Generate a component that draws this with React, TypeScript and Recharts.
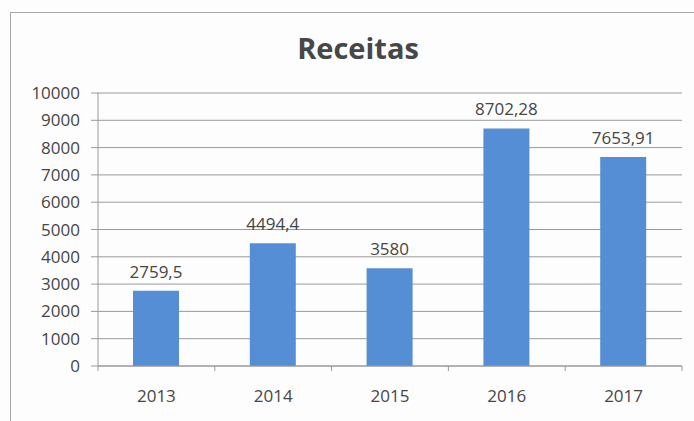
import { BarChart, Bar, XAxis, YAxis, CartesianGrid, LabelList } from 'recharts';

const years = ['2013', '2014', '2015', '2016', '2017'];
const receitas = [2759.5, 4494.4, 3580, 8702.28, 7653.91];
const yTicks = [0, 1000, 2000, 3000, 4000, 5000, 6000, 7000, 8000, 9000, 10000];

const data = years.map((year, i) => ({ year, receitas: receitas[i] }));

const FONT = '"Open Sans", "Noto Sans", sans-serif';
const TEXT = '#454545';
const LINE = '#9a9a9a';

// excel puts the category ticks between bars, not under them
const XTick = (props: any) => {
  const { x, y, payload, index, visibleTicksCount } = props;
  const half = payload?.offset ?? 58;
  const axisY = y - 24;
  return (
    <g>
      <line x1={x - half} x2={x - half} y1={axisY} y2={axisY + 5} stroke={LINE} />
      {index === visibleTicksCount - 1 && (
        <line x1={x + half} x2={x + half} y1={axisY} y2={axisY + 5} stroke={LINE} />
      )}
      <text x={x} y={y} dy="0.71em" textAnchor="middle" fill={TEXT} fontSize={17} fontFamily={FONT}>
        {payload.value}
      </text>
    </g>
  );
};

const fmt = (v: any) => String(v).replace('.', ',');

export default function App() {
  return (
    <div style={{ position: 'absolute', left: 0, top: 0, width: 694, height: 421, background: '#fdfdfd', overflow: 'hidden' }}>
      <div
        style={{
          position: 'absolute',
          left: 10,
          top: 12,
          width: 720,
          height: 440,
          border: '1.5px solid #a8a8a8',
        }}
      />
      <div
        style={{
          position: 'absolute',
          left: 258,
          width: 200,
          top: 28,
          textAlign: 'center',
          fontFamily: FONT,
          fontWeight: 700,
          fontSize: 29,
          color: '#474747',
        }}
      >
        Receitas
      </div>
      <BarChart
        width={694}
        height={421}
        data={data}
        margin={{ top: 93, right: 12, bottom: 0, left: 0 }}
        style={{ position: 'absolute', left: 0, top: 0 }}
      >
        <CartesianGrid vertical={false} stroke={LINE} />
        <XAxis
          dataKey="year"
          height={55}
          axisLine={{ stroke: LINE }}
          tickLine={false}
          tickMargin={18}
          tick={<XTick />}
        />
        <YAxis
          width={98}
          domain={[0, 10000]}
          ticks={yTicks}
          interval={0}
          axisLine={{ stroke: LINE }}
          tickLine={{ stroke: LINE }}
          tickSize={7}
          tickMargin={11}
          tick={{ fill: TEXT, fontSize: 17, fontFamily: FONT }}
        />
        <Bar dataKey="receitas" fill="#558ed5" barSize={46} isAnimationActive={false}>
          <LabelList
            dataKey="receitas"
            position="top"
            offset={13}
            formatter={fmt}
            fill={TEXT}
            fontSize={17}
            fontFamily={FONT}
          />
        </Bar>
      </BarChart>
    </div>
  );
}
